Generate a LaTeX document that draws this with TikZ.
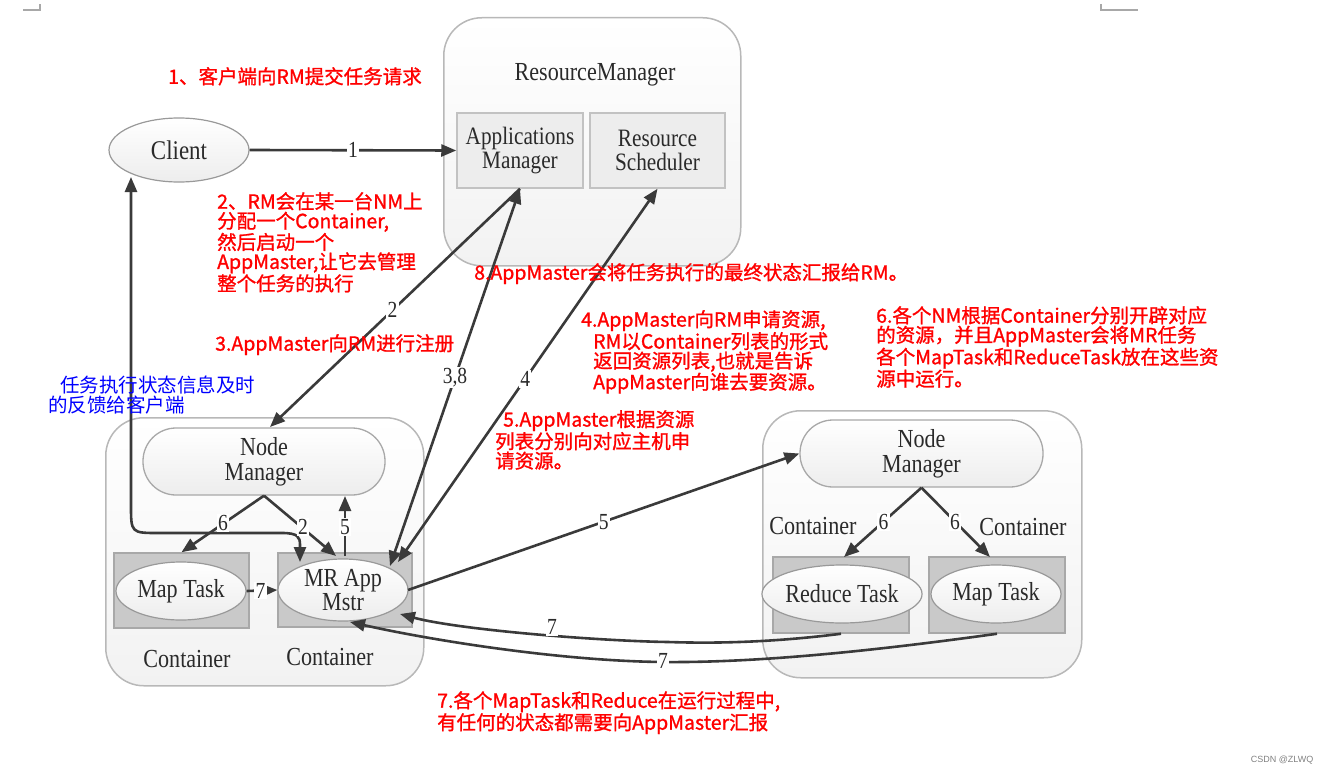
\documentclass[tikz,border=0pt]{standalone}
\usepackage{fontspec}
\usetikzlibrary{arrows.meta,shapes.geometric}
\newfontfamily\dg[FakeStretch=0.85]{Liberation Serif}
\newfontfamily\cjk[FakeBold=1.2]{Noto Sans CJK SC}
\newfontfamily\cjkb{Noto Sans CJK SC}
\newfontfamily\wm{Liberation Sans}
\definecolor{redt}{HTML}{FF0000}
\definecolor{bluet}{HTML}{0000FF}
\definecolor{ln}{HTML}{3A3A3A}
\definecolor{txt}{HTML}{2A2A2A}
\definecolor{outerfill}{HTML}{F2F2F2}
\definecolor{outerdraw}{HTML}{B8B8B8}
\definecolor{inboxfill}{HTML}{EDEDED}
\definecolor{inboxdraw}{HTML}{C2C2C2}
\definecolor{grayfill}{HTML}{C9C9C9}
\definecolor{graydraw}{HTML}{A8A8A8}
\definecolor{elldraw}{HTML}{999999}
\definecolor{cornergray}{HTML}{A8A8A8}
\tikzset{
  outerbox/.style={draw=outerdraw, top color=white, bottom color=outerfill, line width=1.5pt, rounded corners=38pt, inner sep=0pt, anchor=north west},
  inbox/.style={draw=inboxdraw, fill=inboxfill, line width=1.5pt, inner sep=0pt, text=txt, align=center, font=\dg\fontsize{25}{24.5}\selectfont},
  graybox/.style={draw=graydraw, fill=grayfill, line width=1.5pt, inner sep=0pt},
  ell/.style={ellipse, draw=elldraw, top color=white, bottom color=inboxfill, line width=1.2pt, inner sep=0pt, text=txt, align=center, font=\dg\fontsize{26}{24.5}\selectfont},
  nmbox/.style={draw=graydraw, top color=white, bottom color=inboxfill, line width=1.3pt, rounded corners=33pt, inner sep=0pt, text=txt, align=center, font=\dg\fontsize{26}{25}\selectfont},
  dgtext/.style={text=txt, inner sep=0pt, font=\dg\fontsize{26}{24}\selectfont},
  conn/.style={draw=ln, line width=2.6pt, -{Triangle[length=15pt,width=12pt]}},
  conn2/.style={draw=ln, line width=2.6pt, {Triangle[length=15pt,width=12pt]}-{Triangle[length=15pt,width=12pt]}},
  lbl/.style={fill=white, inner sep=1.2pt, text=txt, font=\dg\fontsize{23}{23}\selectfont},
  redtxt/.style={text=redt, anchor=north west, align=left, inner sep=0pt, font=\cjk\fontsize{19.5}{19.5}\selectfont},
  bluetxt/.style={text=bluet, anchor=north west, align=left, inner sep=0pt, font=\cjkb\fontsize{19.5}{19.5}\selectfont},
}
\begin{document}
\begin{tikzpicture}[x=1pt,y=-1pt]
\useasboundingbox (0,0) rectangle (1327,776);
% page corner marks
\draw[cornergray, line width=1.2pt] (23,10) -- (40,10) -- (40,4);
\draw[cornergray, line width=1.2pt] (1101,4) -- (1101,10) -- (1138,10);

% ResourceManager
\node[outerbox, minimum width=297pt, minimum height=248pt] (rm) at (443,17) {};
\node[dgtext] (rmt) at (595,75) {ResourceManager};
\node[inbox, minimum width=126pt, minimum height=75pt] (am) at (520,150.5) {Applications\\Manager};
\node[inbox, minimum width=135pt, minimum height=75pt] (rs) at (657.5,150.5) {Resource\\Scheduler};

% Client
\node[ell, minimum width=140pt, minimum height=64pt, font=\dg\fontsize{27}{24}\selectfont] (client) at (179,150) {Client};

% left NM container
\node[outerbox, minimum width=318pt, minimum height=268pt] (lout) at (105,417) {};
\node[nmbox, minimum width=242pt, minimum height=67pt] (lnm) at (264,461.5) {Node\\Manager};
\node[graybox, minimum width=135pt, minimum height=75pt] (mapLB) at (181.5,590.5) {};
\node[graybox, minimum width=134pt, minimum height=74pt] (mrB) at (345,590) {};
\node[ell, minimum width=130pt, minimum height=58pt] (mapLe) at (181,591) {Map Task};
\node[ell, minimum width=130pt, minimum height=62pt] (mre) at (343,590) {MR App\\Mstr};
\node[dgtext] (lc1) at (187,659) {Container};
\node[dgtext] (lc2) at (330,657) {Container};

% right NM container
\node[outerbox, minimum width=319pt, minimum height=267pt] (rout) at (762,410) {};
\node[nmbox, minimum width=243pt, minimum height=67pt] (rnm) at (921.5,453.5) {Node\\Manager};
\node[graybox, minimum width=136pt, minimum height=76pt] (redB) at (841,595) {};
\node[graybox, minimum width=136pt, minimum height=76pt] (mapRB) at (997,595) {};
\node[ell, minimum width=130pt, minimum height=58pt] (rede) at (842,594) {Reduce Task};
\node[ell, minimum width=130pt, minimum height=58pt] (mapRe) at (996,594) {Map Task};
\node[dgtext] (rc1) at (813,526) {Container};
\node[dgtext] (rc2) at (1023,527) {Container};

% coordinates for connector ends
\coordinate (lnmT) at (270,427);
\coordinate (mr38) at (390,566);
\coordinate (mr4) at (398,562);
\coordinate (mr2) at (336,556);
\coordinate (mr5) at (345,556);
\coordinate (lnm5) at (345,496);
\coordinate (mrR) at (408,590);
\coordinate (mr7a) at (400,614);
\coordinate (mr7b) at (350,622);
\coordinate (clB) at (131,177);
\coordinate (mrC) at (300,562);
\coordinate (rmapT) at (990,557);
\coordinate (rredT) at (844,557);

% connectors
\draw[conn] (client.east) -- node[lbl] (l1) {1} (am.west);
\draw[conn] (am.south) -- node[lbl, pos=0.51] (l2) {2} (lnmT);
\draw[conn2] (mr38) -- node[lbl, pos=0.5] (l38) {3,8} (am.south);
\draw[conn2] (mr4) -- node[lbl, pos=0.49] (l4) {4} (rs.south);
\draw[conn] (mrR) -- node[lbl, pos=0.5] (l5r) {5} (rnm.west);
\draw[conn] (mr5) -- (lnm5);
\draw[conn] (lnm.south) -- (mr2);
\draw[conn] (lnm.south) -- (mapLB.north);
\draw[conn] (mapLe.east) -- node[lbl, pos=0.45] (l7s) {7} (mre.west);
\draw[conn2] (clB) -- (131,505) .. controls (131,533) .. (159,533) -- (282,533) .. controls (298,533) and (300,537) .. (300,545) -- (mrC);
\node[lbl] (l6l) at (223,523) {6};
\node[lbl] (l2s) at (303,527) {2};
\node[lbl] (l5s) at (345,527) {5};
\draw[conn] (rnm.south) -- node[lbl, pos=0.49] (l6a) {6} (rredT);
\draw[conn] (rnm.south) -- node[lbl, pos=0.49] (l6b) {6} (rmapT);
\draw[conn] (redB.south) .. controls (760,644) and (700,643) .. (668,642) .. controls (600,641) and (460,630) .. (mr7a);
\node[lbl] (l7a) at (552,627) {7};
\draw[conn] (mapRB.south) .. controls (880,650) and (760,663) .. (663,662) .. controls (560,661) and (430,640) .. (mr7b);
\node[lbl] (l7b) at (663,661) {7};

% red annotations
\node[redtxt] (t1) at (168,67) {1、客户端向RM提交任务请求};
\node[redtxt] (t2) at (217,192) {2、RM会在某一台NM上\\分配一个Container,\\然后启动一个\\AppMaster,让它去管理\\整个任务的执行};
\node[redtxt] (t3) at (215,334) {3.AppMaster向RM进行注册};
\node[redtxt] (t8) at (474,263) {8.AppMaster会将任务执行的最终状态汇报给RM。};
\node[redtxt] (t4) at (581,310) {4.AppMaster向RM申请资源,\\\hspace*{12pt}RM以Container列表的形式\\\hspace*{12pt}返回资源列表,也就是告诉\\\hspace*{12pt}AppMaster向谁去要资源。};
\node[redtxt] (t6) at (876,306) {6.各个NM根据Container分别开辟对应\\的资源，并且AppMaster会将MR任务\\各个MapTask和ReduceTask放在这些资\\源中运行。};
\node[redtxt] (t5) at (495,410) {\hspace*{8pt}5.AppMaster根据资源\\列表分别向对应主机申\\请资源。};
\node[redtxt] (t7) at (437,691) {7.各个MapTask和Reduce在运行过程中,\\有任何的状态都需要向AppMaster汇报};
\node[bluetxt] (tb) at (48,376) {\hspace*{12pt}任务执行状态信息及时\\的反馈给客户端};
\node[text=gray, inner sep=0pt, font=\wm\fontsize{9}{9}\selectfont] (wm) at (1282,760) {CSDN @ZLWQ};
\end{tikzpicture}
\end{document}
